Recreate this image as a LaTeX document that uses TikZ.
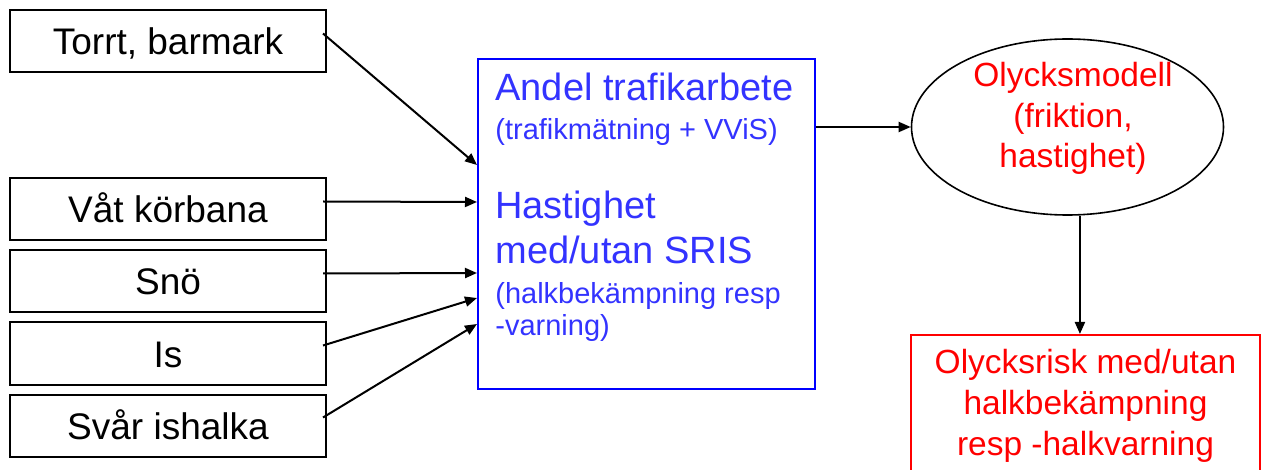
\documentclass[tikz,border=0pt]{standalone}
\usepackage{fontspec}
\setmainfont{Liberation Sans}
\usepackage{tikz}
\usetikzlibrary{arrows.meta,positioning,shapes.geometric}
\definecolor{srisblue}{RGB}{51, 51, 255}
\definecolor{srisframe}{RGB}{0, 0, 255}
\definecolor{srisred}{RGB}{255, 0, 0}
\setlength{\parindent}{0pt}

\begin{document}
\begin{tikzpicture}[x=0.5pt, y=-0.5pt, node distance=4pt]
    % Define styles
    \tikzstyle{surface} = [rectangle, draw=black, line width=1pt, minimum width=158pt, minimum height=31pt,
                           inner sep=0pt, font=\fontsize{18.5}{22}\selectfont, text height=13.5pt, text depth=0pt]
    \tikzstyle{sharebox} = [rectangle, draw=srisframe, line width=1pt, minimum width=168.5pt, minimum height=165pt, inner sep=0pt]
    \tikzstyle{model} = [ellipse, draw=black, line width=0.8pt, minimum width=156pt, minimum height=88pt, inner sep=0pt]
    \tikzstyle{riskbox} = [rectangle, draw=srisred, line width=0.8pt, minimum width=174.5pt, inner sep=7.25pt,
                           align=center, text=srisred, font=\fontsize{16.75}{20.5}\selectfont]
    \tikzstyle{flow} = [-{Triangle[length=6pt, width=5pt]}, line width=1pt]

    \clip (0,0) rectangle (1264,470);

    % Nodes
    \node[surface] (torrt) at (168,41.5) {Torrt, barmark};
    \node[surface, below=52pt of torrt] (vaat) {Våt körbana};
    \node[surface, below=of vaat] (snoe) {Snö};
    \node[surface, below=of snoe] (is) {Is};
    \node[surface, below=of is] (svaar) {Svår ishalka};

    \node[sharebox] (andel) at (646.5,224) {};
    \node[anchor=north west, text width=155pt, align=left, inner sep=0pt, text=srisblue] (andeltext)
        at ([xshift=9pt, yshift=-7.5pt]andel.north west) {%
        \spaceskip=0pt \xspaceskip=0pt
        {\fontsize{19}{22.5}\selectfont Andel trafikarbete\par}
        {\fontsize{14.5}{19.5}\selectfont (trafikmätning + VViS)\par}
        \vspace{17pt}
        {\fontsize{19}{22.5}\selectfont Hastighet\\med/utan SRIS\par}
        {\fontsize{14.5}{20}\selectfont (halkbekämpning resp\par}
        {\fontsize{14.5}{16}\selectfont -varning)\par}};

    \node[model] (modell) at (1067.5,127) {};
    \node[anchor=north, align=center, inner sep=0pt, text=srisred, font=\fontsize{16.75}{20.25}\selectfont] (modelltext)
        at ([xshift=2.75pt, yshift=32.5pt]modell.center) {Olycksmodell\\(friktion,\\hastighet)};

    \node[riskbox, anchor=north] (risk) at (1085.5,334) {Olycksrisk med/utan\\halkbekämpning\\resp -halkvarning};

    % Connections
    \draw[flow] ([xshift=-2pt, yshift=4pt]torrt.east) -- ([yshift=29.5pt]andel.west);
    \draw[flow] ([xshift=-2pt, yshift=4pt]vaat.east) -- ([yshift=11pt]andel.west);
    \draw[flow] ([xshift=-2pt, yshift=4pt]snoe.east) -- ([yshift=-24.5pt]andel.west);
    \draw[flow] ([xshift=-2pt, yshift=4pt]is.east) -- ([yshift=-37pt]andel.west);
    \draw[flow] ([xshift=-2pt, yshift=4pt]svaar.east) -- ([yshift=-50pt]andel.west);
    \draw[flow] (andel.east |- modell.west) -- (modell.west);
    \draw[flow] (modell.-82) -- (modell.-82 |- risk.north);
\end{tikzpicture}
\end{document}
